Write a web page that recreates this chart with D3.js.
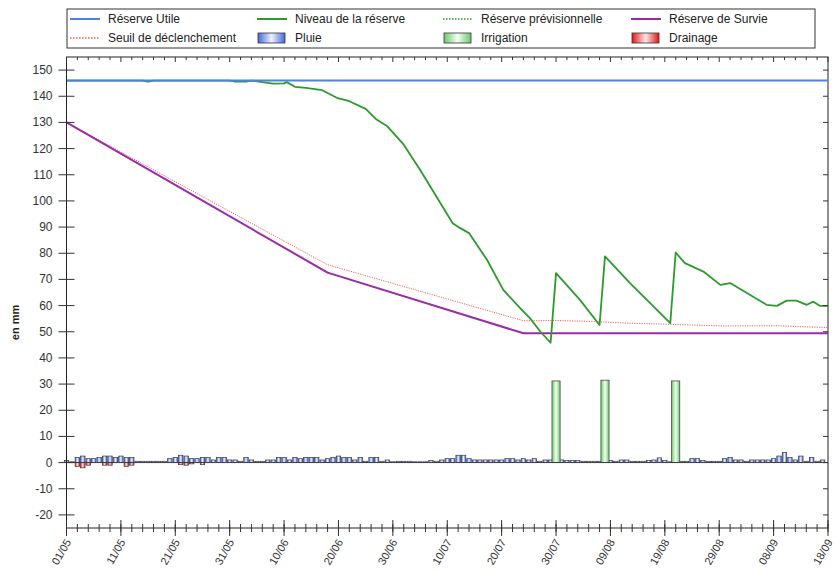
<!DOCTYPE html>
<html>
<head>
<meta charset="utf-8">
<script src="https://cdn.jsdelivr.net/npm/d3@7"></script>
<style>
  body { margin: 0; background: #fff; }
  text { font-family: "Liberation Sans", Arial, sans-serif; }
</style>
</head>
<body>
<div id="chart-container"></div>
<script>
// jours comptés depuis le 01/05
const dateLabels = ["01/05", "11/05", "21/05", "31/05", "10/06", "20/06", "30/06", "10/07",
  "20/07", "30/07", "09/08", "19/08", "29/08", "08/09", "18/09"];
const yTicks = [-20, -10, 0, 10, 20, 30, 40, 50, 60, 70, 80, 90, 100, 110, 120, 130, 140, 150];

const reserveUtileJours = [0, 140];
const reserveUtile = [146, 146];

const niveauJours = [0, 14, 15, 16, 30, 31, 33, 34, 36, 38, 40, 40.5, 42, 44, 47, 49.7, 52, 55, 57, 59,
  62, 65, 68, 71, 72.4, 74, 77.3, 80.3, 83.4, 85.2, 87.1, 89, 90, 94.4, 98, 99, 103.6, 111, 112,
  113.7, 117.1, 120.2, 122, 125.1, 128.7, 130.6, 132.4, 134.2, 136.1, 137.3, 138.5, 140];
const niveau = [146, 146, 145.6, 146, 146, 145.6, 145.6, 146, 145.4, 144.8, 144.9, 145.4, 143.6, 143.2,
  142.3, 139.4, 138.1, 135.2, 131.1, 128.5, 121.5, 111.9, 101.7, 91.5, 89.6, 87.7, 77.5, 66, 59,
  55.2, 50.1, 45.8, 72.4, 62.2, 52.6, 78.8, 68.6, 53.3, 80.3, 76.2, 73, 67.9, 68.6, 64.8, 60.3,
  59.9, 61.9, 61.9, 60.3, 61.5, 59.9, 59.9];

const survieJours = [0, 48, 84, 140];
const survie = [130, 72.6, 49.4, 49.4];

const seuilJours = [0, 48, 84, 90, 97, 103, 110, 121, 130, 140];
const seuil = [130, 75.6, 54.2, 54.3, 53.9, 53.3, 52.9, 52.2, 52.3, 51.6];

const pluie = [0.8, 0.3, 2.0, 2.5, 1.5, 1.5, 2.0, 2.5, 2.5, 2.0, 2.5, 2.0, 2.0, 0.5, 0.5, 0.5, 0.5, 0.5,
  0.5, 1.5, 2.0, 2.8, 2.5, 1.5, 1.5, 2.0, 2.0, 1.0, 2.0, 2.0, 1.0, 1.0, 0.5, 2.0, 1.0, 0.5, 0.5, 1.0,
  1.0, 2.0, 2.0, 1.0, 2.0, 1.5, 2.0, 2.0,
  2.0, 1.0, 1.5, 2.0, 2.5, 2.0, 2.0, 1.0, 2.0, 0.5, 2.0, 2.0, 0.5, 1.0, 0.3, 0.5, 0.5, 0.5, 0.3, 0.3,
  0.3, 0.8, 0.5, 1.0, 1.5, 1.5, 2.8, 2.8, 1.5, 1.0, 1.0, 1.0, 1.0, 1.0, 1.0, 1.5, 1.5, 1.0, 1.5, 1.0,
  1.5, 0.5, 1.0, 1.0, 0.5, 1.0, 0.8,
  0.8, 0.8, 0.5, 0.5, 0.5, 0.5, 0.3, 0.8, 0.5, 1.0, 1.0, 0.5, 0.5, 0.5, 0.8, 1.0, 1.8, 0.8, 0.3, 0.3,
  0.5, 0.5, 1.5, 1.5, 0.8, 0.5, 0.5, 0.5, 1.5, 2.0, 1.0, 1.0, 0.5, 1.0, 1.0, 1.0, 1.0, 1.5, 2.5, 3.8,
  2.0, 1.0, 2.5, 0.5, 2.0, 0.5, 1.0];

const irrigationJours = [90, 99, 112];
const irrigation = [31.2, 31.5, 31.2];

const drainageJours = [2, 3, 4, 7, 8, 11, 12, 21, 22, 23, 25];
const drainage = [-1.5, -2, -1, -1, -1, -1.5, -1, -0.8, -1, -0.5, -0.8];

const render = () => {
  const width = 836;
  const height = 572;
  const left = 66.5;
  const right = 828;
  const top = 57;
  const bottom = 528;

  const svg = d3.select("#chart-container").append("svg")
    .attr("width", width)
    .attr("height", height);

  const x = d3.scaleLinear().domain([0, 140]).range([left, right]);
  const y = d3.scaleLinear().domain([-25, 155]).range([bottom, top]);
  const dayW = x(1) - x(0);

  const defs = svg.append("defs");
  const gradient = (id, edge, middle) => {
    const g = defs.append("linearGradient").attr("id", id)
      .attr("x1", 0).attr("x2", 1).attr("y1", 0).attr("y2", 0);
    g.append("stop").attr("offset", "0%").attr("stop-color", edge);
    g.append("stop").attr("offset", "50%").attr("stop-color", middle);
    g.append("stop").attr("offset", "100%").attr("stop-color", edge);
  };
  gradient("g-pluie", "#4467dc", "#eef2ff");
  gradient("g-irrig", "#6cc86c", "#f2fff2");
  gradient("g-drain", "#e01818", "#ffe8e8");

  // cadre
  svg.append("rect")
    .attr("x", left).attr("y", top)
    .attr("width", right - left).attr("height", bottom - top)
    .attr("fill", "none").attr("stroke", "#222");

  // barres
  const bars = svg.append("g").attr("stroke", "#3a3a3a").attr("stroke-width", 0.7);
  bars.selectAll(".pluie")
    .data(pluie)
    .join("rect")
    .attr("class", "pluie")
    .attr("x", (d, i) => x(i) - dayW / 2 + 0.5)
    .attr("width", dayW - 1)
    .attr("y", (d) => y(d))
    .attr("height", (d) => y(0) - y(d))
    .attr("fill", "url(#g-pluie)");

  bars.selectAll(".drain")
    .data(drainage)
    .join("rect")
    .attr("class", "drain")
    .attr("x", (d, i) => x(drainageJours[i]) - dayW / 2 + 0.5)
    .attr("width", dayW - 1)
    .attr("y", y(0))
    .attr("height", (d) => y(d) - y(0))
    .attr("fill", "url(#g-drain)");

  bars.selectAll(".irrig")
    .data(irrigation)
    .join("rect")
    .attr("class", "irrig")
    .attr("x", (d, i) => x(irrigationJours[i]) - dayW * 0.75)
    .attr("width", dayW * 1.5)
    .attr("y", (d) => y(d))
    .attr("height", (d) => y(0) - y(d))
    .attr("fill", "url(#g-irrig)");

  svg.append("line")
    .attr("x1", left).attr("x2", right)
    .attr("y1", y(0)).attr("y2", y(0))
    .attr("stroke", "#333").attr("stroke-width", 0.8);

  // courbes
  const line = (jours) => d3.line().x((d, i) => x(jours[i])).y((d) => y(d));
  const drawLine = (jours, vals, color, w, dash) => {
    svg.append("path")
      .datum(vals)
      .attr("d", line(jours))
      .attr("fill", "none")
      .attr("stroke", color)
      .attr("stroke-width", w)
      .attr("stroke-dasharray", dash)
      .attr("stroke-linejoin", "round");
  };
  drawLine(seuilJours, seuil, "#ff5a5a", 1, "1.2,1.2");
  drawLine(survieJours, survie, "#9a2aa8", 2, null);
  drawLine(niveauJours, niveau, "#2c9a2c", 1.8, null);
  drawLine(reserveUtileJours, reserveUtile, "#4f80e6", 2, null);

  // axe gauche
  const yAxis = svg.append("g");
  yAxis.append("line")
    .attr("x1", left).attr("x2", left).attr("y1", top).attr("y2", bottom)
    .attr("stroke", "#222");
  yAxis.selectAll(".tk")
    .data(yTicks)
    .join("line")
    .attr("class", "tk")
    .attr("x1", left - 8).attr("x2", left + 8)
    .attr("y1", (d) => y(d)).attr("y2", (d) => y(d))
    .attr("stroke", "#333");
  yAxis.selectAll("text")
    .data(yTicks)
    .join("text")
    .attr("x", left - 14)
    .attr("y", (d) => y(d) + 4)
    .attr("text-anchor", "end")
    .attr("font-size", 12)
    .attr("fill", "#333")
    .text((d) => d);

  // graduations à droite
  svg.append("g").selectAll("line")
    .data(yTicks)
    .join("line")
    .attr("x1", right - 5).attr("x2", right)
    .attr("y1", (d) => y(d)).attr("y2", (d) => y(d))
    .attr("stroke", "#333");

  svg.append("text")
    .attr("transform", `translate(19,${(top + bottom) / 2 + 30}) rotate(-90)`)
    .attr("text-anchor", "middle")
    .attr("font-size", 11)
    .attr("font-weight", "bold")
    .attr("fill", "#222")
    .text("en mm");

  // axe du bas et du haut
  const minor = d3.range(0, 141, 2);
  const major = dateLabels.map((d, i) => i * 10);
  const xAxis = svg.append("g").attr("stroke", "#333");
  xAxis.selectAll(".mb")
    .data(minor)
    .join("line")
    .attr("class", "mb")
    .attr("x1", (d) => x(d)).attr("x2", (d) => x(d))
    .attr("y1", bottom - 4).attr("y2", bottom + 4);
  xAxis.selectAll(".Mb")
    .data(major)
    .join("line")
    .attr("class", "Mb")
    .attr("x1", (d) => x(d)).attr("x2", (d) => x(d))
    .attr("y1", bottom - 8).attr("y2", bottom + 8);
  xAxis.selectAll(".mt")
    .data(minor)
    .join("line")
    .attr("class", "mt")
    .attr("x1", (d) => x(d)).attr("x2", (d) => x(d))
    .attr("y1", top).attr("y2", (d) => (d % 10 === 0 ? top + 5 : top + 3));

  svg.append("g").selectAll("text")
    .data(dateLabels)
    .join("text")
    .attr("transform", (d, i) => `translate(${x(i * 10) + 5},${bottom + 14}) rotate(-60)`)
    .attr("text-anchor", "end")
    .attr("font-size", 11)
    .attr("fill", "#333")
    .text((d) => d);

  // légende
  const legend = svg.append("g");
  legend.append("rect")
    .attr("x", 67).attr("y", 9).attr("width", 748).attr("height", 39)
    .attr("fill", "#fff").attr("stroke", "#333");
  const items = [
    { label: "Réserve Utile", kind: "line", color: "#4f80e6", col: 0, row: 0 },
    { label: "Niveau de la réserve", kind: "line", color: "#2c9a2c", col: 1, row: 0 },
    { label: "Réserve prévisionnelle", kind: "dot", color: "#2c9a2c", col: 2, row: 0 },
    { label: "Réserve de Survie", kind: "line", color: "#9a2aa8", col: 3, row: 0 },
    { label: "Seuil de déclenchement", kind: "dot", color: "#ff5a5a", col: 0, row: 1 },
    { label: "Pluie", kind: "bar", color: "url(#g-pluie)", col: 1, row: 1 },
    { label: "Irrigation", kind: "bar", color: "url(#g-irrig)", col: 2, row: 1 },
    { label: "Drainage", kind: "bar", color: "url(#g-drain)", col: 3, row: 1 },
  ];
  const colX = [70, 257, 443, 631];
  const rowY = [19, 38];
  items.forEach((it) => {
    const x0 = colX[it.col];
    const y0 = rowY[it.row];
    if (it.kind === "bar") {
      legend.append("rect")
        .attr("x", x0 + 1).attr("y", y0 - 5).attr("width", 27).attr("height", 10)
        .attr("fill", it.color).attr("stroke", "#333").attr("stroke-width", 0.8);
    } else {
      legend.append("line")
        .attr("x1", x0).attr("x2", x0 + 30).attr("y1", y0).attr("y2", y0)
        .attr("stroke", it.color)
        .attr("stroke-width", it.kind === "dot" ? 1.5 : 2)
        .attr("stroke-dasharray", it.kind === "dot" ? "1.5,1.5" : null);
    }
    legend.append("text")
      .attr("x", x0 + 38).attr("y", y0 + 4)
      .attr("font-size", 12)
      .attr("fill", "#222")
      .text(it.label);
  });
};

render();
</script>
</body>
</html>
